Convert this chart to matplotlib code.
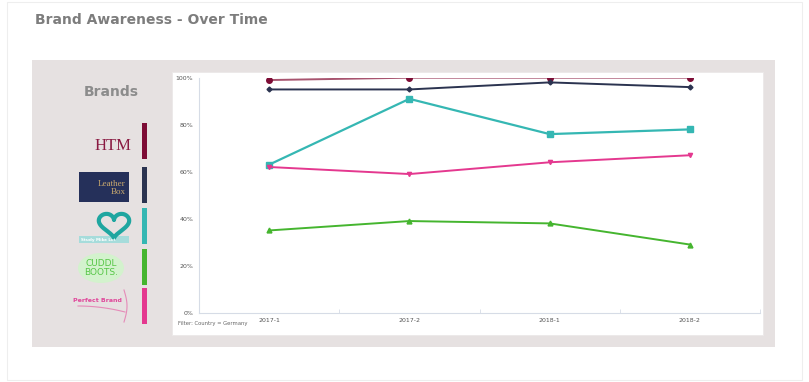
import numpy as np
import matplotlib
matplotlib.use("Agg")
from matplotlib import pyplot as plt
from matplotlib.patches import Rectangle, Ellipse

periods = ["2017-1", "2017-2", "2018-1", "2018-2"]
htm = [99, 100, 100, 100]
leather_box = [95, 95, 98, 96]
study_mike = [63, 91, 76, 78]
perfect_brand = [62, 59, 64, 67]
cuddl_boots = [35, 39, 38, 29]
y_ticks = [0, 20, 40, 60, 80, 100]

c_htm = "#7d0c35"
c_leather = "#2b3350"
c_study = "#35b7b3"
c_cuddl = "#45b52f"
c_perfect = "#e4388f"

W, H = 809, 382
fig = plt.figure(figsize=(W / 100, H / 100), dpi=100)
fig.patch.set_facecolor("white")

# background layer in pixel coordinates
bg = fig.add_axes([0, 0, 1, 1])
bg.set_xlim(0, W)
bg.set_ylim(H, 0)
bg.axis("off")
bg.add_patch(Rectangle((7, 2), 795, 378, fill=False, ec="#eeeeee", lw=0.8))
bg.add_patch(Rectangle((32, 60), 743, 287, fc="#e6e1e1", ec="none"))
bg.add_patch(Rectangle((172, 72), 591, 263, fc="white", ec="#ebe8e8", lw=0.6))
bg.text(35, 20, "Brand Awareness - Over Time", fontsize=10, fontweight="bold",
        color="#7d7d7d", va="center", ha="left")
bg.text(111, 92, "Brands", fontsize=10, fontweight="bold", color="#8c8c8c",
        va="center", ha="center")

# colour key bars
bars = [(123, c_htm), (167, c_leather), (208, c_study), (249, c_cuddl), (288, c_perfect)]
for top, col in bars:
    bg.add_patch(Rectangle((142, top), 5, 36, fc=col, ec="none"))

# brand logos
bg.text(113, 146, "HTM", fontsize=12, family="Liberation Serif", color="#8a1a42",
        ha="center", va="center")
bg.add_patch(Rectangle((79, 172), 50, 30, fc="#25305a", ec="none"))
bg.text(126, 188, "Leather\nBox", fontsize=6.5, family="Liberation Serif",
        color="#c8a86e", ha="right", va="center", linespacing=0.85)

t = np.linspace(0, 2 * np.pi, 200)
hx = 16 * np.sin(t) ** 3
hy = 13 * np.cos(t) - 5 * np.cos(2 * t) - 2 * np.cos(3 * t) - np.cos(4 * t)
bg.plot(114 + hx * 0.95, 224 - hy * 0.85, color="#1fa6a0", lw=3, solid_capstyle="round")
bg.add_patch(Rectangle((79, 236), 50, 7, fc="#a6dcdb", ec="none"))
bg.text(81, 239.5, "Study Mike Lot", fontsize=3, color="white", fontweight="bold",
        ha="left", va="center")

bg.add_patch(Ellipse((101, 268), 46, 30, fc="#d3f2cd", ec="none"))
bg.text(101, 268, "CUDDL\nBOOTS.", fontsize=6.5, color="#56c646", ha="center",
        va="center", linespacing=0.9)

bg.text(97, 301, "Perfect Brand", fontsize=4.5, fontweight="bold", color="#e0479a",
        ha="center", va="center")
sx = np.linspace(78, 125, 60)
bg.plot(sx, 306 + 6 * ((sx - 78) / 47) ** 2, color="#e58bb8", lw=0.8)
sy = np.linspace(290, 322, 40)
bg.plot(124 + 3 * np.sin((sy - 290) / 32 * np.pi), sy, color="#e58bb8", lw=0.8)

# line chart
ax = fig.add_axes([199 / W, 1 - 312.7 / H, 561 / W, 235 / H])
ax.set_facecolor("white")
x = np.arange(len(periods))
ax.plot(x, htm, "-", color="#a8546f", lw=1.4)
ax.plot(x, htm, "o", color=c_htm, ms=4)
ax.plot(x, leather_box, "-D", color=c_leather, lw=1.4, ms=2.5)
ax.plot(x, study_mike, "-s", color=c_study, lw=1.6, ms=4)
ax.plot(x, perfect_brand, "-v", color=c_perfect, lw=1.4, ms=3)
ax.plot(x, cuddl_boots, "-^", color=c_cuddl, lw=1.4, ms=3.5)

ax.set_xlim(-0.5, len(periods) - 0.5)
ax.set_ylim(0, 100)
ax.set_yticks(y_ticks)
ax.set_yticklabels([f"{v}%" for v in y_ticks])
ax.set_xticks(x)
ax.set_xticklabels(periods)
ax.set_xticks(np.arange(-0.5, len(periods), 1.0), minor=True)
ax.tick_params(axis="both", which="major", length=0, labelsize=4.5,
               labelcolor="#555555", pad=4)
ax.tick_params(axis="x", which="minor", length=3, direction="in", color="#d6dce6")
for side in ["top", "right"]:
    ax.spines[side].set_visible(False)
for side in ["left", "bottom"]:
    ax.spines[side].set_color("#d6dce6")
    ax.spines[side].set_linewidth(0.8)

bg.text(178, 323, "Filter: Country = Germany", fontsize=3.8, color="#666666",
        ha="left", va="center")

fig.savefig("out.png", dpi=100)
